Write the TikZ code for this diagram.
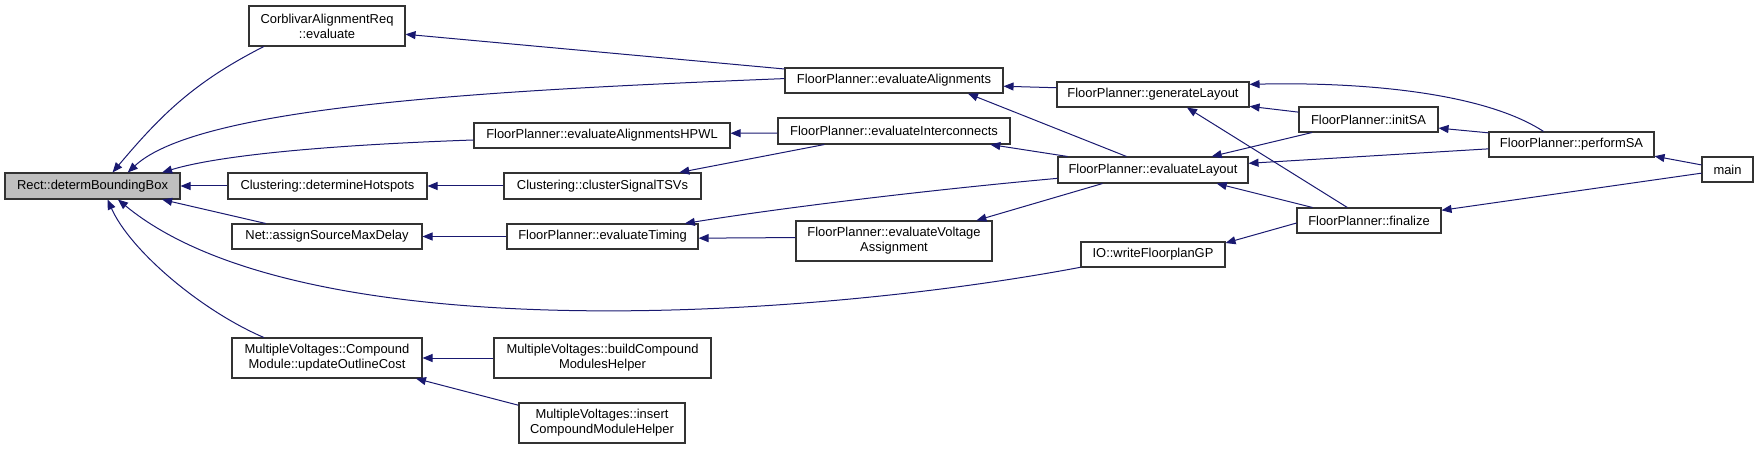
\documentclass[tikz,border=0pt]{standalone}
\usepackage{fontspec}
\usepackage{tikz}
\usetikzlibrary{arrows.meta}
\definecolor{edgeblue}{RGB}{25,25,112}
\definecolor{nodegray}{RGB}{191,191,191}
\newfontfamily\dxfont{Liberation Sans}

\begin{document}
\begin{tikzpicture}[x=0.75pt,y=-0.75pt,
    fn/.style 2 args={draw=black!80,line width=0.8pt,fill=white,inner sep=0pt,align=center,
      minimum width=#1*0.75pt,minimum height=#2*0.75pt,
      font=\dxfont\fontsize{9.7}{11.25}\selectfont},
    call/.style={edgeblue,line width=0.75pt,-{Triangle[length=7.5pt,width=6pt]}}]
        \useasboundingbox (0,0) rectangle (1759,449);

        \node[fn={175}{26},fill=nodegray] (rect) at (92.5,186) {Rect::determBoundingBox};
        \node[fn={156}{40}] (corbEval) at (327,26) {CorblivarAlignmentReq\\::evaluate};
        \node[fn={199}{26}] (hotspots) at (327.5,186) {Clustering::determineHotspots};
        \node[fn={190}{25}] (netDelay) at (327,236.5) {Net::assignSourceMaxDelay};
        \node[fn={190}{40}] (mvUpdate) at (327,358) {MultipleVoltages::Compound\\Module::updateOutlineCost};

        \node[fn={256}{25}] (hpwl) at (602,135.5) {FloorPlanner::evaluateAlignmentsHPWL};
        \node[fn={197}{26}] (clusterTSV) at (602.5,186) {Clustering::clusterSignalTSVs};
        \node[fn={191}{25}] (evalTiming) at (602.5,236.5) {FloorPlanner::evaluateTiming};
        \node[fn={217}{40}] (mvBuild) at (602.5,358) {MultipleVoltages::buildCompound\\ModulesHelper};
        \node[fn={166}{40}] (mvInsert) at (602,423) {MultipleVoltages::insert\\CompoundModuleHelper};

        \node[fn={218}{25}] (evalAlign) at (894,80.5) {FloorPlanner::evaluateAlignments};
        \node[fn={232}{26}] (evalInter) at (894,131) {FloorPlanner::evaluateInterconnects};
        \node[fn={196}{40}] (evalVolt) at (894,241) {FloorPlanner::evaluateVoltage\\Assignment};

        \node[fn={192}{25}] (genLayout) at (1153,94.5) {FloorPlanner::generateLayout};
        \node[fn={190}{26}] (evalLayout) at (1153,170) {FloorPlanner::evaluateLayout};
        \node[fn={144}{25}] (writeGP) at (1153,254.5) {IO::writeFloorplanGP};

        \node[fn={139}{25}] (initSA) at (1368.5,119.5) {FloorPlanner::initSA};
        \node[fn={144}{25}] (finalize) at (1369,220.5) {FloorPlanner::finalize};
        \node[fn={165}{25}] (performSA) at (1571.5,144.5) {FloorPlanner::performSA};
        \node[fn={51}{25}] (main) at (1727.5,169.5) {main};

        \draw[call] (corbEval.198) to[out=207,in=50] (rect.34);
        \draw[call] (evalAlign.179) .. controls (500,90) and (200,105) .. (rect.21);
        \draw[call] (hpwl.182) .. controls (330,145) and (220,155) .. (rect.11);
        \draw[call] (hotspots) -- (rect);
        \draw[call] (netDelay.168) -- (rect.349);
        \draw[call] (writeGP.190) .. controls (800,320) and (300,350) .. (rect.332);
        \draw[call] (mvUpdate.162) .. controls (200,310) and (130,250) .. (rect.318);

        \draw[call] (evalAlign.174) -- (corbEval.354);
        \draw[call] (clusterTSV) -- (hotspots);
        \draw[call] (evalTiming) -- (netDelay);
        \draw[call] (mvBuild) -- (mvUpdate);
        \draw[call] (mvInsert.168) -- (mvUpdate.347);

        \draw[call] (evalInter.181) -- (hpwl.1);
        \draw[call] (evalInter.191) -- (clusterTSV.10);
        \draw[call] (evalLayout.185) .. controls (950,188) and (800,205) .. (evalTiming.9);
        \draw[call] (evalVolt.178) -- (evalTiming.359);

        \draw[call] (evalLayout.195) -- (evalVolt.14);
        \draw[call] (evalLayout.153) -- (evalAlign.350);
        \draw[call] (evalLayout.171) -- (evalInter.352);
        \draw[call] (genLayout.176) -- (evalAlign.357);

        \draw[call] (initSA.174) -- (genLayout.353);
        \draw[call] (initSA.193) -- (evalLayout.13);
        \draw[call] (performSA.155) .. controls (1480,90) and (1350,82) .. (genLayout.6);
        \draw[call] (performSA.172) -- (initSA.353);
        \draw[call] (performSA.183) -- (evalLayout.4);
        \draw[call] (finalize.167) -- (evalLayout.348);
        \draw[call] (finalize.149) -- (genLayout.339);
        \draw[call] (finalize.182) -- (writeGP.9);
        \draw[call] (main.170) -- (performSA.352);
        \draw[call] (main.188) -- (finalize.8);
      \end{tikzpicture}
\end{document}
